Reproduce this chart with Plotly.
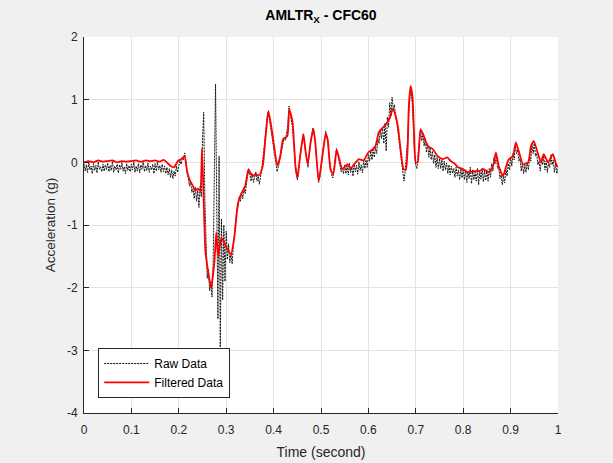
import plotly.graph_objects as go
import numpy as np

# ---- Data ----
raw_dt = 0.0025
raw_y = [
    -0.02, -0.14, -0.04, -0.16, 0.00, -0.12, -0.06, -0.18, -0.02, -0.13, -0.05, -0.17, 0.01, -0.11, -0.07, -0.15, -0.03, -0.14, -0.04, -0.12,
    -0.01, -0.15, -0.05, -0.13, 0.02, -0.16, -0.06, -0.12, -0.03, -0.17, -0.04, -0.11, 0.00, -0.14, -0.07, -0.18, -0.02, -0.13, -0.05, -0.15,
    -0.03, -0.12, 0.01, -0.16, -0.06, -0.14, -0.02, -0.17, -0.04, -0.11, 0.02, -0.15, -0.05, -0.13, -0.01, -0.16, -0.06, -0.12, -0.03, -0.18,
    -0.02, -0.14, 0.00, -0.12, -0.05, -0.16, -0.03, -0.15, -0.06, -0.18, -0.08, -0.20, -0.10, -0.24, -0.12, -0.26, -0.14, -0.22, -0.06, -0.16,
    -0.05, 0.02, -0.03, 0.08, 0.04, 0.15, 0.02, -0.18, -0.25, -0.38, -0.30, -0.48, -0.42, -0.58, -0.40, -0.62, -0.45, -0.72, -0.38, -0.55,
    0.35, 0.80, -0.60, -1.50, -1.85, -1.70, -2.05, -1.90, -2.15, -1.60, 0.30, 1.25, -0.60, -2.50, 0.10, -2.95, -0.90, -2.20, -1.00, -1.90,
    -1.10, -1.55, -1.30, -1.60, -1.45, -1.62, -1.35, -1.10, -0.85, -0.75, -0.70, -0.55, -0.62, -0.48, -0.58, -0.40, -0.50, -0.35, -0.22, -0.15,
    -0.20, -0.30, -0.18, -0.32, -0.25, -0.15, -0.30, -0.22, -0.35, -0.18, -0.10, 0.05, 0.25, 0.50, 0.72, 0.80, 0.75, 0.62, 0.50, 0.40,
    0.25, 0.10, -0.05, -0.15, -0.08, 0.02, 0.12, 0.25, 0.32, 0.40, 0.35, 0.45, 0.60, 0.90, 0.78, 0.68, 0.55, 0.30, 0.05, -0.15,
    -0.28, -0.20, 0.05, 0.18, 0.35, 0.45, 0.30, 0.15, 0.00, -0.08, 0.12, 0.30, 0.40, 0.55, 0.50, 0.35, 0.10, -0.15, -0.32, -0.25,
    -0.05, 0.08, 0.25, 0.38, 0.50, 0.40, 0.28, 0.05, -0.12, -0.20, -0.25, -0.10, 0.08, 0.22, 0.15, 0.05, -0.05, -0.15, -0.10, -0.18,
    -0.04, -0.18, -0.06, -0.20, -0.02, -0.16, -0.08, -0.22, -0.03, -0.15, -0.05, -0.19, 0.01, -0.13, -0.04, -0.17, 0.02, -0.10, 0.04, -0.08,
    0.12, 0.02, 0.18, 0.04, 0.20, 0.08, 0.24, 0.14, 0.38, 0.30, 0.52, 0.38, 0.56, 0.30, 0.62, 0.18, 0.72, 0.56, 0.95, 0.74,
    1.04, 0.85, 0.92, 0.70, 0.65, 0.50, 0.35, 0.20, 0.05, -0.10, -0.30, -0.15, 0.05, 0.35, 0.75, 1.05, 1.15, 0.95, 0.55, 0.10,
    -0.05, -0.10, 0.15, 0.36, 0.52, 0.34, 0.46, 0.26, 0.38, 0.16, 0.30, 0.08, 0.24, 0.04, 0.18, -0.02, 0.12, -0.08, 0.08, -0.10,
    0.06, -0.10, 0.04, -0.14, 0.02, -0.12, -0.01, -0.18, -0.04, -0.20, -0.06, -0.17, -0.10, -0.24, -0.08, -0.22, -0.12, -0.28, -0.10, -0.25,
    -0.10, -0.28, -0.12, -0.32, -0.14, -0.26, -0.08, -0.34, -0.12, -0.28, -0.16, -0.30, -0.10, -0.36, -0.14, -0.27, -0.09, -0.31, -0.13, -0.29,
    -0.12, -0.30, -0.10, -0.24, -0.02, -0.14, 0.08, -0.02, 0.10, -0.10, -0.08, -0.26, -0.20, -0.36, -0.22, -0.33, -0.10, -0.22, -0.02, -0.12,
    0.08, -0.06, 0.14, 0.04, 0.28, 0.14, 0.20, 0.02, 0.06, -0.14, -0.02, -0.18, -0.04, -0.16, 0.00, -0.12, 0.10, 0.02, 0.30, 0.14,
    0.30, 0.10, 0.14, -0.04, 0.02, -0.14, 0.06, -0.04, 0.10, -0.12, 0.02, -0.16, 0.00, -0.08, 0.12, -0.04, 0.04, -0.16, -0.02, -0.18,
    -0.10,
]
raw_t = np.arange(len(raw_y)) * raw_dt

filt_t = [
    0.000, 0.010, 0.020, 0.030, 0.040, 0.050, 0.060, 0.070, 0.080, 0.090,
    0.100, 0.110, 0.120, 0.130, 0.140, 0.150, 0.160, 0.168, 0.175, 0.183,
    0.190, 0.198, 0.205, 0.212, 0.218, 0.224, 0.230, 0.235, 0.240, 0.245,
    0.249, 0.256, 0.262, 0.268, 0.275, 0.279, 0.283, 0.290, 0.300, 0.310,
    0.317, 0.325, 0.333, 0.340, 0.347, 0.355, 0.360, 0.370, 0.377, 0.383,
    0.389, 0.397, 0.408, 0.414, 0.420, 0.429, 0.433, 0.440, 0.446, 0.450,
    0.457, 0.463, 0.467, 0.472, 0.478, 0.484, 0.488, 0.495, 0.503, 0.510,
    0.514, 0.520, 0.526, 0.533, 0.537, 0.545, 0.556, 0.562, 0.573, 0.580,
    0.590, 0.600, 0.608, 0.615, 0.622, 0.630, 0.640, 0.646, 0.651, 0.655,
    0.662, 0.668, 0.674, 0.679, 0.683, 0.685, 0.689, 0.693, 0.696, 0.700,
    0.704, 0.710, 0.717, 0.725, 0.736, 0.746, 0.757, 0.766, 0.774, 0.782,
    0.789, 0.800, 0.810, 0.822, 0.833, 0.843, 0.854, 0.863, 0.869, 0.875,
    0.884, 0.890, 0.896, 0.905, 0.911, 0.918, 0.926, 0.937, 0.943, 0.949,
    0.958, 0.964, 0.970, 0.979, 0.989, 0.996, 1.000,
]
filt_y = [
    0.00, 0.02, 0.00, 0.03, 0.01, 0.02, 0.03, 0.00, 0.02, 0.01,
    0.02, 0.03, 0.01, 0.03, 0.02, 0.03, 0.01, 0.04, 0.00, -0.06,
    -0.08, 0.02, 0.05, 0.10, -0.16, -0.30, -0.38, -0.45, -0.42, -0.45,
    0.22, -1.40, -1.75, -2.00, -1.60, -1.12, -1.50, -1.20, -1.35, -1.47,
    -1.20, -0.65, -0.48, -0.38, -0.11, -0.22, -0.20, -0.20, -0.06, 0.40,
    0.82, 0.48, -0.06, 0.10, 0.37, 0.42, 0.85, 0.64, -0.06, -0.24,
    0.16, 0.45, 0.20, -0.03, 0.32, 0.53, 0.32, -0.30, 0.10, 0.45,
    0.37, -0.11, -0.19, 0.20, 0.10, -0.11, -0.03, -0.10, 0.00, 0.05,
    0.03, 0.16, 0.20, 0.26, 0.48, 0.55, 0.64, 0.72, 0.85, 0.80,
    0.58, 0.20, -0.11, -0.12, 0.26, 0.85, 1.22, 1.05, 0.53, 0.00,
    0.00, 0.53, 0.42, 0.26, 0.21, 0.10, 0.05, 0.08, 0.02, -0.02,
    -0.08, -0.11, -0.16, -0.14, -0.14, -0.11, -0.16, -0.06, 0.16, -0.06,
    -0.22, -0.08, 0.05, 0.10, 0.32, 0.16, -0.03, 0.00, 0.26, 0.34,
    0.13, 0.00, 0.13, 0.00, 0.13, -0.03, -0.08,
]

x_ticks = [0, 0.1, 0.2, 0.3, 0.4, 0.5, 0.6, 0.7, 0.8, 0.9, 1]
x_tick_labels = ["0", "0.1", "0.2", "0.3", "0.4", "0.5", "0.6", "0.7", "0.8", "0.9", "1"]
y_ticks = [-4, -3, -2, -1, 0, 1, 2]
y_tick_labels = ["-4", "-3", "-2", "-1", "0", "1", "2"]

FONT = "Liberation Sans, Arial, Helvetica, sans-serif"
AX = "#262626"

fig = go.Figure()
fig.add_trace(go.Scatter(
    x=raw_t, y=raw_y, mode="lines", name="Raw Data",
    line=dict(color="#111111", width=1, dash="2px,1px"),
))
fig.add_trace(go.Scatter(
    x=filt_t, y=filt_y, mode="lines", name="Filtered Data",
    line=dict(color="#ff0000", width=1.8, shape="spline", smoothing=0.5),
))

axis_common = dict(
    showgrid=True, gridcolor="#e3e3e3", gridwidth=1,
    showline=True, linecolor=AX, linewidth=1, mirror=False,
    ticks="inside", ticklen=5, tickcolor=AX, zeroline=False,
    tickfont=dict(family=FONT, size=12, color=AX),
    automargin=False,
)
fig.update_layout(
    width=613, height=463,
    paper_bgcolor="#f0f0f0", plot_bgcolor="#ffffff",
    margin=dict(l=84, r=55, t=37, b=50),
    font=dict(family=FONT, color=AX),
    title=dict(text="<b>AMLTR<sub>X</sub> - CFC60</b>", x=0.5, xref="paper",
               y=0.967, yanchor="middle", font=dict(size=14, color="#000000")),
    xaxis=dict(range=[0, 1], tickvals=x_ticks, ticktext=x_tick_labels,
               ticklabelstandoff=6,
               title=dict(text="Time (second)", font=dict(size=14, color=AX), standoff=10),
               **axis_common),
    yaxis=dict(range=[-4, 2], tickvals=y_ticks, ticktext=y_tick_labels,
               ticklabelstandoff=3,
               title=dict(text="Acceleration (g)", font=dict(size=13.5, color=AX), standoff=8),
               **axis_common),
    legend=dict(x=0.03, y=0.04, xanchor="left", yanchor="bottom",
                bgcolor="#ffffff", bordercolor=AX, borderwidth=1,
                font=dict(family=FONT, size=12, color="#000000"),
                tracegroupgap=0, itemwidth=45),
    showlegend=True,
)

fig.write_html(
    "out.html",
    config={"displayModeBar": False},
    post_script="document.body.style.margin='0';document.body.style.background='#f0f0f0';",
)
